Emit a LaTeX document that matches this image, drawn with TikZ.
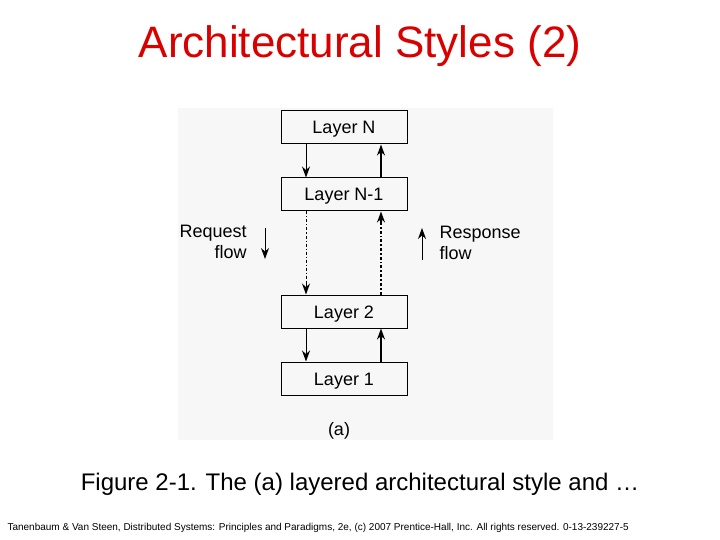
\documentclass[tikz,border=0pt]{standalone}
\usepackage{fontspec}
\setmainfont{Liberation Sans}
\usetikzlibrary{arrows.meta}
\begin{document}
\begin{tikzpicture}[x=1pt,y=-1pt,
  layer/.style={draw,line width=1pt,minimum width=126pt,minimum height=33pt,inner sep=0pt,text height=13pt,text depth=0pt,font=\fontsize{18}{21}\selectfont},
  dn/.style={-{Stealth[length=11pt,width=8pt]},line width=1pt},
  upar/.style={-{Stealth[length=11pt,width=8pt]},line width=1.7pt},
  lbl/.style={font=\fontsize{18}{21}\selectfont,align=left}]
\useasboundingbox (0,0) rectangle (720,540);
\fill[white] (0,0) rectangle (720,540);
\fill[black!3] (178,108) rectangle (553,440);
\node[red!85!black,font=\fontsize{44}{50}\selectfont] (title) at (360,46) {Architectural Styles (2)};
\node[layer] (ln) at (344,127.5) {Layer N};
\node[layer] (ln1) at (344,194.5) {Layer N-1};
\node[layer] (l2) at (344,311.5) {Layer 2};
\node[layer] (l1) at (344,378.5) {Layer 1};
\draw[dn] (ln.south -| 306,0) -- (ln1.north -| 306,0);
\draw[upar] (ln1.north -| 381,0) -- (ln.south -| 381,0);
\draw[dn] (l2.south -| 306,0) -- (l1.north -| 306,0);
\draw[upar] (l1.north -| 381,0) -- (l2.south -| 381,0);
\coordinate (a1) at (306,282);
\coordinate (b1) at (381,224);
\draw[line width=1pt,dash dot] (ln1.south -| 306,0) -- (a1);
\draw[dn] (a1) -- (l2.north -| 306,0);
\draw[line width=1.7pt,dash dot] (l2.north -| 381,0) -- (b1);
\draw[upar] (b1) -- (ln1.south -| 381,0);
\node[lbl,anchor=west] (req) at (176,242) {Request\\\hspace*{1.95em}flow};
\coordinate (r1) at (265,228); \coordinate (r2) at (265,259);
\draw[dn] (r1) -- (r2);
\coordinate (s1) at (422,260); \coordinate (s2) at (422,228);
\draw[dn] (s1) -- (s2);
\node[lbl,anchor=west] (resp) at (436,243) {Response\\flow};
\node[font=\fontsize{18}{21}\selectfont] (a) at (339,431) {(a)};
\node[font=\fontsize{24}{28}\selectfont] (cap) at (360,484) {Figure 2-1. The (a) layered architectural style and \dots};
\node[font=\fontsize{10}{12}\selectfont,anchor=west] (foot) at (4,528) {Tanenbaum \& Van Steen, Distributed Systems: Principles and Paradigms, 2e, (c) 2007 Prentice-Hall, Inc. All rights reserved. 0-13-239227-5};
\end{tikzpicture}
\end{document}
